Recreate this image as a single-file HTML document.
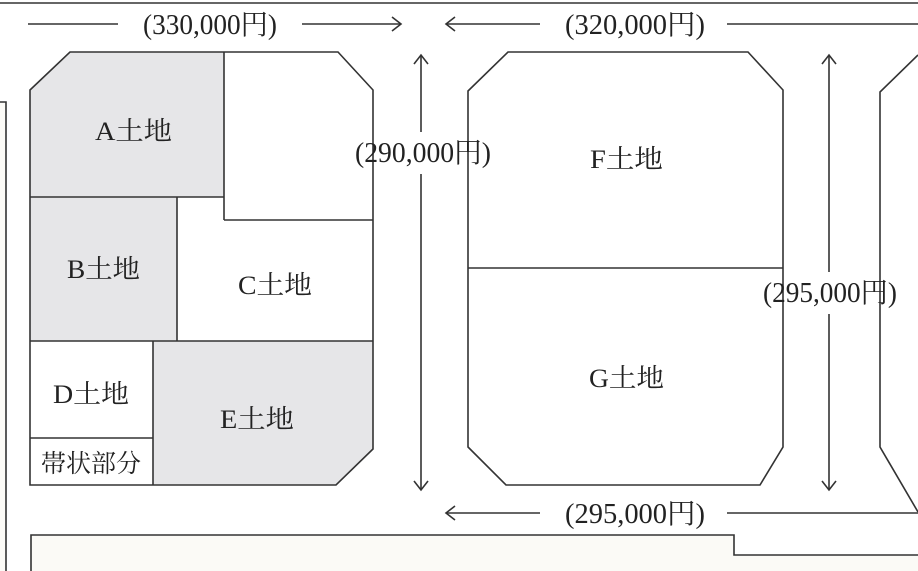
<!DOCTYPE html>
<html><head><meta charset="utf-8"><style>
html,body{margin:0;padding:0;background:#fff}
svg{display:block}
text{font-family:"Liberation Serif","Noto Serif CJK SC",serif;fill:#222}
</style></head><body>
<svg width="918" height="571" viewBox="0 0 918 571" xmlns="http://www.w3.org/2000/svg">
<rect x="0" y="102" width="6" height="469" fill="#fcfbf7"/>
<polygon points="31,571 31,535 734,535 734,555 918,555 918,571" fill="#fbfaf6"/>
<g stroke="#333" stroke-width="1.6" fill="none">
<line x1="0" y1="3" x2="918" y2="3"/>
<path d="M0,102 H6 V571"/>
<path d="M31,571 V535 H734 V555 H918"/>
<polygon points="30,90 70,52 224,52 224,197 30,197" fill="#e6e6e8" stroke="none"/>
<rect x="30" y="197" width="147" height="144" fill="#e6e6e8" stroke="none"/>
<polygon points="153,341 373,341 373,449 336,485 153,485" fill="#e6e6e8" stroke="none"/>
<polygon points="30,90 70,52 338,52 373,90 373,449 336,485 30,485"/>
<line x1="224" y1="52" x2="224" y2="220"/>
<line x1="224" y1="220" x2="373" y2="220"/>
<line x1="30" y1="197" x2="224" y2="197"/>
<line x1="177" y1="197" x2="177" y2="341"/>
<line x1="30" y1="341" x2="373" y2="341"/>
<line x1="153" y1="341" x2="153" y2="485"/>
<line x1="30" y1="438" x2="153" y2="438"/>
<polygon points="468,91 508,52 748,52 783,90 783,447 760,485 506,485 468,447"/>
<line x1="468" y1="268" x2="783" y2="268"/>
<polyline points="918,55 880,92 880,447 918,512"/>
<line x1="28" y1="24" x2="118" y2="24"/>
<line x1="302" y1="24" x2="401" y2="24"/>
<polyline points="392,17 401,24 392,31"/>
<line x1="446" y1="24" x2="540" y2="24"/>
<polyline points="455,17 446,24 455,31"/>
<line x1="727" y1="24" x2="918" y2="24"/>
<line x1="421" y1="55" x2="421" y2="132"/>
<line x1="421" y1="174" x2="421" y2="490"/>
<polyline points="414,64 421,55 428,64"/>
<polyline points="414,481 421,490 428,481"/>
<line x1="829" y1="55" x2="829" y2="272"/>
<line x1="829" y1="314" x2="829" y2="490"/>
<polyline points="822,64 829,55 836,64"/>
<polyline points="822,481 829,490 836,481"/>
<line x1="446" y1="513" x2="540" y2="513"/>
<polyline points="455,506 446,513 455,520"/>
<line x1="727" y1="513" x2="918" y2="513"/>
</g>
<g font-size="28" lengthAdjust="spacingAndGlyphs">
<text x="143" y="34" textLength="134" lengthAdjust="spacingAndGlyphs">(330,000円)</text>
<text x="565" y="34" textLength="140" lengthAdjust="spacingAndGlyphs">(320,000円)</text>
<text x="355" y="162" textLength="136" lengthAdjust="spacingAndGlyphs">(290,000円)</text>
<text x="763" y="302" textLength="134" lengthAdjust="spacingAndGlyphs">(295,000円)</text>
<text x="565" y="523" textLength="140" lengthAdjust="spacingAndGlyphs">(295,000円)</text>
</g>
<g font-size="26">
<text x="95" y="140" textLength="77" lengthAdjust="spacingAndGlyphs">A土地</text>
<text x="67" y="278" textLength="73" lengthAdjust="spacingAndGlyphs">B土地</text>
<text x="238" y="294" textLength="74" lengthAdjust="spacingAndGlyphs">C土地</text>
<text x="53" y="403" textLength="76" lengthAdjust="spacingAndGlyphs">D土地</text>
<text x="220" y="428" textLength="74" lengthAdjust="spacingAndGlyphs">E土地</text>
<text x="590" y="168" textLength="73" lengthAdjust="spacingAndGlyphs">F土地</text>
<text x="589" y="387" textLength="75" lengthAdjust="spacingAndGlyphs">G土地</text>
<text x="41" y="472" textLength="100" lengthAdjust="spacingAndGlyphs" font-size="25">帯状部分</text>
</g>
</svg>
</body></html>
